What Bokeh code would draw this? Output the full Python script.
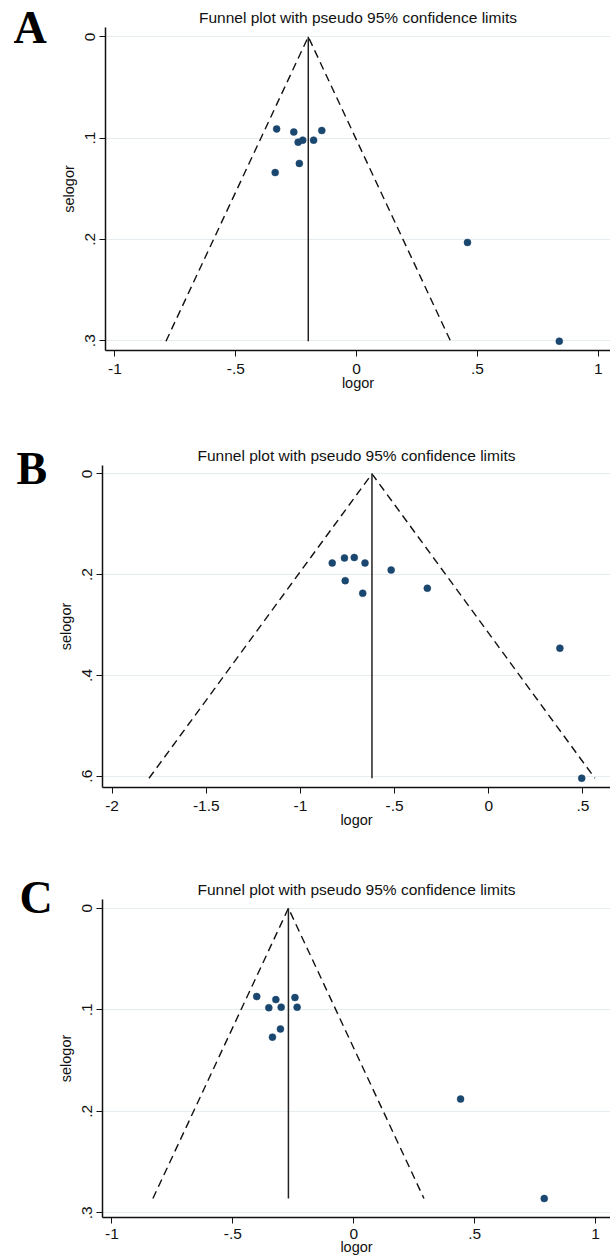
from bokeh.plotting import figure
from bokeh.models import Range1d, FixedTicker, Title
from bokeh.layouts import column, row
from bokeh.core.properties import value
from bokeh.embed import file_html
from bokeh.resources import INLINE

TITLE = "Funnel plot with pseudo 95% confidence limits"
X_NAME = "logor"
Y_NAME = "selogor"

# ---------------- data ----------------
# Panel A
a_logor = [-0.331, -0.260, -0.242, -0.223, -0.178, -0.144, -0.237, -0.337, 0.459, 0.839]
a_selogor = [0.091, 0.094, 0.104, 0.102, 0.102, 0.0925, 0.125, 0.134, 0.203, 0.3005]
a_center = -0.20
a_xticks = [-1, -0.5, 0, 0.5, 1]
a_xlabels = ["-1", "-.5", "0", ".5", "1"]
a_yticks = [0, 0.1, 0.2, 0.3]
a_ylabels = ["0", ".1", ".2", ".3"]

# Panel B
b_logor = [-0.831, -0.766, -0.714, -0.657, -0.518, -0.762, -0.669, -0.326, 0.378, 0.494]
b_selogor = [0.177, 0.167, 0.166, 0.177, 0.191, 0.212, 0.237, 0.227, 0.346, 0.604]
b_center = -0.62
b_xticks = [-2, -1.5, -1, -0.5, 0, 0.5]
b_xlabels = ["-2", "-1.5", "-1", "-.5", "0", ".5"]
b_yticks = [0, 0.2, 0.4, 0.6]
b_ylabels = ["0", ".2", ".4", ".6"]

# Panel C
c_logor = [-0.401, -0.322, -0.243, -0.351, -0.300, -0.234, -0.303, -0.336, 0.442, 0.788]
c_selogor = [0.087, 0.090, 0.088, 0.098, 0.0975, 0.0975, 0.119, 0.127, 0.188, 0.286]
c_center = -0.27
c_xticks = [-1, -0.5, 0, 0.5, 1]
c_xlabels = ["-1", "-.5", "0", ".5", "1"]
c_yticks = [0, 0.1, 0.2, 0.3]
c_ylabels = ["0", ".1", ".2", ".3"]

Z = 1.96
LETTER_W = 50
MAIN_W = 560
MARKER = "#1a476f"
GRID = "#e6edf1"
AXIS = "#111111"
TXT = "#111111"


def letter_figure(letter, height, lx, ly):
    f = figure(width=LETTER_W, height=height, output_backend="svg", toolbar_location=None,
               title=None, x_range=Range1d(0, LETTER_W), y_range=Range1d(height, 0),
               x_axis_type=None, y_axis_type=None,
               min_border=0, min_border_left=0, min_border_right=0,
               min_border_top=0, min_border_bottom=0)
    f.frame_align = False
    f.outline_line_color = None
    f.background_fill_color = "white"
    f.border_fill_color = "white"
    f.xgrid.visible = False
    f.ygrid.visible = False
    f.text(x=[lx], y=[ly], text=[letter], text_align="left", text_baseline="alphabetic",
           text_font=value("Liberation Serif"), text_font_style="bold",
           text_font_size="46px", text_color="#000000")
    return f


def make_panel(letter, logor, selogor, center, xticks, xlabels, yticks, ylabels,
               height, border_left, border_top, frame_h, x_range, y_top, y_bottom,
               title_offset, title_standoff, lx, ly, xlab_standoff, xname_standoff):
    p = figure(width=MAIN_W, height=height, output_backend="svg", toolbar_location=None,
               x_range=Range1d(*x_range), y_range=Range1d(y_bottom, y_top),
               min_border_left=border_left, min_border_right=0,
               min_border_top=border_top,
               min_border_bottom=height - border_top - frame_h)
    p.frame_align = False
    p.outline_line_color = None
    p.background_fill_color = "white"
    p.border_fill_color = "white"

    p.title = Title(text=TITLE, align="center", offset=title_offset,
                    standoff=title_standoff, text_font="Liberation Sans",
                    text_font_size="15.5px", text_font_style="normal", text_color=TXT)

    for ax in (p.xaxis[0], p.yaxis[0]):
        ax.axis_line_color = AXIS
        ax.axis_line_width = 1.5
        ax.major_tick_line_color = AXIS
        ax.major_tick_line_width = 1
        ax.major_tick_out = 6
        ax.major_tick_in = 0
        ax.minor_tick_line_color = None
        ax.major_label_text_font = "Liberation Sans"
        ax.major_label_text_font_size = "15.5px"
        ax.major_label_text_color = TXT
        ax.axis_label_text_font = "Liberation Sans"
        ax.axis_label_text_font_size = "14.5px"
        ax.axis_label_text_font_style = "normal"
        ax.axis_label_text_color = TXT

    p.xaxis[0].ticker = FixedTicker(ticks=xticks)
    p.xaxis[0].major_label_overrides = dict(zip(xticks, xlabels))
    p.xaxis[0].major_label_standoff = xlab_standoff
    p.xaxis[0].axis_label = X_NAME
    p.xaxis[0].axis_label_standoff = xname_standoff

    p.yaxis[0].ticker = FixedTicker(ticks=yticks)
    p.yaxis[0].major_label_overrides = dict(zip(yticks, ylabels))
    p.yaxis[0].major_label_orientation = "vertical"
    p.yaxis[0].major_label_standoff = 4
    p.yaxis[0].axis_label = Y_NAME
    p.yaxis[0].axis_label_standoff = 6

    p.xgrid.visible = False
    p.ygrid.ticker = FixedTicker(ticks=yticks)
    p.ygrid.grid_line_color = GRID
    p.ygrid.grid_line_width = 1

    semax = max(selogor)
    p.line([center - Z * semax, center, center + Z * semax], [semax, 0, semax],
           line_color="#111111", line_width=1.4, line_dash="8 5")
    p.line([center, center], [0, semax], line_color="#222222", line_width=1.5)

    p.scatter(logor, selogor, marker="circle", size=7, fill_color=MARKER,
              line_color=MARKER, line_width=0.5)

    lf = letter_figure(letter, height, lx, ly)
    return row(lf, p, spacing=0)


# Panel A: page rows 0..440, frame 27..350, frame left at page x 105
pa = make_panel("A", a_logor, a_selogor, a_center, a_xticks, a_xlabels, a_yticks, a_ylabels,
                height=440, border_left=55, border_top=27, frame_h=323,
                x_range=(-1.0393, 1.0509), y_top=-0.0092, y_bottom=0.3097,
                title_offset=0, title_standoff=3, lx=13, ly=27,
                xlab_standoff=7, xname_standoff=-2)

# Panel B: page rows 440..870, frame 465..787, frame left at page x 102
pb = make_panel("B", b_logor, b_selogor, b_center, b_xticks, b_xlabels, b_yticks, b_ylabels,
                height=430, border_left=52, border_top=25, frame_h=322,
                x_range=(-2.051, 0.6468), y_top=-0.0165, y_bottom=0.6224,
                title_offset=-3, title_standoff=4, lx=16, ly=28,
                xlab_standoff=7, xname_standoff=-2)

# Panel C: page rows 870..1259, frame 899..1217, frame left at page x 102
pc = make_panel("C", c_logor, c_selogor, c_center, c_xticks, c_xlabels, c_yticks, c_ylabels,
                height=389, border_left=52, border_top=29, frame_h=318,
                x_range=(-1.0389, 1.0620), y_top=-0.0086, y_bottom=0.3047,
                title_offset=-3, title_standoff=4, lx=19, ly=27,
                xlab_standoff=5, xname_standoff=-3)

layout = column(pa, pb, pc, spacing=0)
open("out.html", "w").write(file_html(layout, INLINE))
